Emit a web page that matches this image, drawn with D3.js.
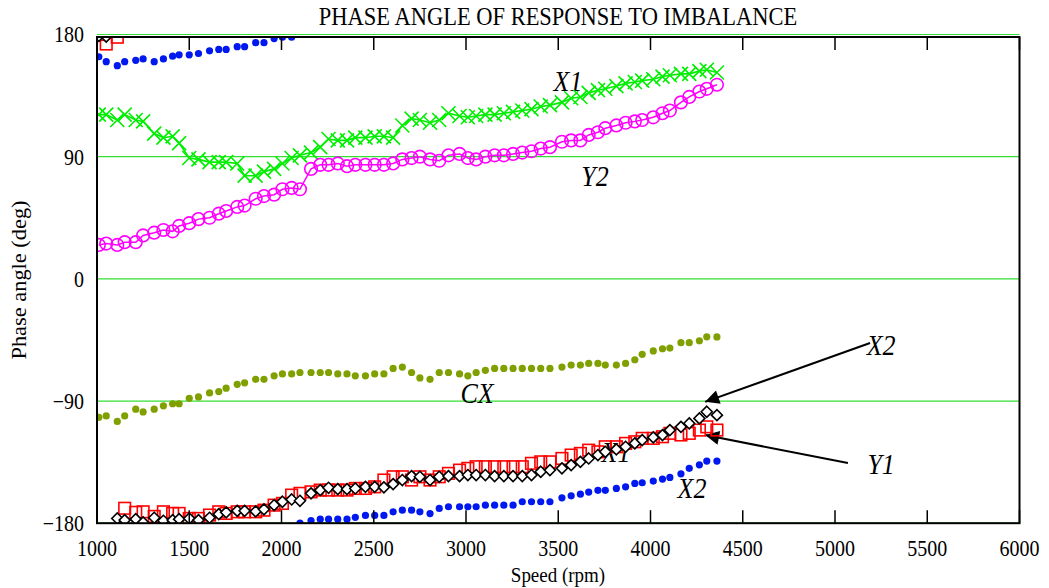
<!DOCTYPE html>
<html><head><meta charset="utf-8">
<script src="https://cdn.jsdelivr.net/npm/d3@7"></script>
<style>html,body{margin:0;padding:0;background:#fff;}svg{display:block;}</style>
</head><body>
<script>
const speeds = [1010,1050,1110,1150,1210,1250,1310,1360,1410,1445,1500,1550,1610,1660,1700,1760,1800,1860,1905,1960,2005,2055,2100,2160,2210,2255,2305,2355,2400,2455,2505,2555,2605,2655,2705,2750,2805,2855,2905,2965,3010,3055,3105,3155,3205,3255,3305,3355,3405,3455,3520,3570,3620,3665,3715,3755,3815,3865,3915,3955,4015,4065,4105,4165,4210,4265,4305,4360];
const seriesX1 = [121,121,117,121,117,116,107,104,105,100,89,88,86,86,86,85,76,76,79,81,85,89,91,93,97,103,102,102,104,104,105,105,104,113,118,117,115,117,122,120,119,120,121,121,122,123,124,125,127,128,130,133,134,137,139,140,142,144,145,146,147,149,150,151,151,153,154,152];
const seriesY2 = [25,26,25,27,27,32,34,36,35,39,41,44,45,48,50,53,54,59,61,62,66,67,66,81,84,84,85,83,84,84,84,84,85,88,89,90,88,87,91,92,89,88,90,91,91,92,93,94,96,97,101,102,102,106,108,111,113,115,116,117,119,122,124,130,134,138,140,143];
const seriesCX = [-102,-101,-105,-101,-96,-98,-96,-93.5,-92,-92,-88,-87,-84,-83,-80.5,-77.7,-76.6,-74,-74,-71.4,-70,-70,-69,-69,-69,-69,-70,-70,-71.4,-71.4,-70,-70,-66,-65,-69,-73,-74,-69,-69,-70,-71.4,-69,-67.4,-66,-66,-66,-66,-66,-66,-66,-65,-63.5,-63.5,-62.3,-62.3,-63.5,-63.5,-62.3,-59.6,-55.6,-53.1,-51.5,-51,-47,-47,-45.6,-42.7,-42.8];
const seriesX2dots = [163.6,160,157,160,161,162,160,162,164,165,165,166,168,169,169,171,171,174,174,177,178,178,-180,-178,-177,-177,-177,-177,-175.7,-174.3,-174.3,-174.3,-171.6,-170.4,-170.4,-171.6,-172.9,-169.1,-167.9,-167.9,-167.9,-167.9,-166.7,-166.7,-166.7,-166.7,-164.2,-164.2,-164.2,-164.2,-161.3,-159.8,-158.6,-157.1,-155.8,-155.8,-154.4,-153.2,-150.7,-150.2,-149,-147.5,-146.3,-143.6,-139.6,-137,-134.2,-134.2];
const seriesY1 = [180,173,178,-169,-172,-171.6,-175,-171.6,-172.8,-172.8,-176.5,-176.5,-174,-171.6,-172.8,-171.6,-171.6,-171.6,-170.4,-166.7,-165.4,-159.3,-158,-156.9,-155.6,-155.6,-155.6,-155.6,-154.4,-154.4,-153.2,-148.2,-145.8,-145.8,-148.2,-145.8,-148.2,-145.8,-143.3,-140.9,-139.6,-138.4,-138.4,-138.4,-138.4,-138.4,-138.4,-135.9,-134.8,-134.8,-132.3,-129.8,-128.6,-126.2,-127.4,-123.7,-123.7,-121.2,-120,-117.5,-117.5,-116.3,-113.8,-115,-113.8,-111.4,-109,-111.4];
const seriesX2diamonds = [179,178.5,-176.5,-177.7,-177,-179.4,-176,-178.2,-177.7,-177,-176.5,-177.7,-176,-173.3,-172,-170.9,-170.9,-171.3,-169.8,-166.7,-164.2,-162.5,-163.5,-158,-155.6,-153.9,-154.9,-154.9,-154.4,-153.2,-153.2,-153.6,-151.2,-148.2,-145.3,-145.8,-148.2,-145.8,-145.3,-145.3,-144.5,-144.5,-144.5,-145.3,-145.3,-145.3,-145.3,-144.5,-142.1,-140.9,-139.6,-137.2,-134.8,-132.3,-129.8,-127.4,-125.6,-123.7,-121.2,-118.8,-116.8,-115.1,-111.4,-109,-106.5,-102.8,-97.9,-100.4];
const xTicks = [1000,1500,2000,2500,3000,3500,4000,4500,5000,5500,6000];
const yTicks = [180,90,0,-90,-180];
const yTickLabels = ["180","90","0","\u221290","\u2212180"];
const titleText = "PHASE ANGLE OF RESPONSE TO IMBALANCE";
const xLabel = "Speed (rpm)";
const yLabel = "Phase angle (deg)";
const annotations = [
  {t:"X1", s:3553, v:145.6},
  {t:"Y2", s:3699, v:75.7},
  {t:"CX", s:3060, v:-84.1},
  {t:"X2", s:5250, v:-48.7},
  {t:"Y1", s:5250, v:-136.5},
  {t:"X1", s:3813, v:-127.6},
  {t:"X2", s:4225, v:-154.1}
];
const arrows = [
  {s0:5190, v0:-47.3, s1:4296, v1:-90.6},
  {s0:5070, v0:-135.7, s1:4296, v1:-115.1}
];

const W=1049,H=588;
const svg = d3.select("body").append("svg").attr("width",W).attr("height",H);
const x = d3.scaleLinear().domain([1000,6000]).range([97,1019.5]);
const y = d3.scaleLinear().domain([-180,180]).range([523.2,34.5]);
const serif = "'Liberation Serif','Times New Roman',serif";
const SY = 1.12;

const defs = svg.append("defs");
defs.append("clipPath").attr("id","clip").append("rect")
  .attr("x",x(1000)).attr("y",37).attr("width",x(6000)-x(1000)).attr("height",y(-180)-37);
defs.append("marker").attr("id","ah").attr("viewBox","0 0 10 10").attr("refX",10).attr("refY",5)
  .attr("markerWidth",16).attr("markerHeight",14).attr("markerUnits","userSpaceOnUse").attr("orient","auto")
  .append("path").attr("d","M0,0 L10,5 L0,10 z").attr("fill","#000");

// gridlines
svg.append("g").selectAll("line").data(yTicks).join("line")
  .attr("x1",x(1000)).attr("x2",x(6000)).attr("y1",d=>y(d)).attr("y2",d=>y(d))
  .attr("stroke","#33e033").attr("stroke-width",1.2);

// annotations
svg.append("g").selectAll("text").data(annotations).join("text")
  .attr("transform",d=>`translate(${x(d.s)},${y(d.v)}) scale(1,${SY})`).attr("dy","0.35em").attr("text-anchor","middle")
  .attr("font-family",serif).attr("font-style","italic").attr("font-size",26).attr("fill","#000")
  .text(d=>d.t);
svg.append("g").selectAll("line").data(arrows).join("line")
  .attr("x1",d=>x(d.s0)).attr("y1",d=>y(d.v0)).attr("x2",d=>x(d.s1)).attr("y2",d=>y(d.v1))
  .attr("stroke","#000").attr("stroke-width",2).attr("marker-end","url(#ah)");

const plot = svg.append("g").attr("clip-path","url(#clip)");
const pts = arr => arr.map((v,i)=>[speeds[i],v]);

// blue dots
plot.append("g").selectAll("circle").data(pts(seriesX2dots)).join("circle")
  .attr("cx",d=>x(d[0])).attr("cy",d=>y(d[1])).attr("r",3.6).attr("fill","#0018f0");
// olive dots
plot.append("g").selectAll("circle").data(pts(seriesCX)).join("circle")
  .attr("cx",d=>x(d[0])).attr("cy",d=>y(d[1])).attr("r",3.6).attr("fill","#80a000");
// green X1 line + crosses
const line = d3.line().x(d=>x(d[0])).y(d=>y(d[1]));
plot.append("path").attr("d",line(pts(seriesX1))).attr("fill","none").attr("stroke","#00ee00").attr("stroke-width",1.6);
plot.append("g").selectAll("path").data(pts(seriesX1)).join("path")
  .attr("d",d=>{const cx=x(d[0]),cy=y(d[1]),h=7;return `M${cx-h},${cy-h}L${cx+h},${cy+h}M${cx-h},${cy+h}L${cx+h},${cy-h}`;})
  .attr("stroke","#00ee00").attr("stroke-width",1.6).attr("fill","none");
// magenta Y2 line + circles
plot.append("path").attr("d",line(pts(seriesY2))).attr("fill","none").attr("stroke","#ff00ff").attr("stroke-width",1.5);
plot.append("g").selectAll("circle").data(pts(seriesY2)).join("circle")
  .attr("cx",d=>x(d[0])).attr("cy",d=>y(d[1])).attr("r",6.3).attr("fill","none").attr("stroke","#ff00ff").attr("stroke-width",1.6);
// red squares Y1
plot.append("g").selectAll("rect").data(pts(seriesY1)).join("rect")
  .attr("x",d=>x(d[0])-5.8).attr("y",d=>y(d[1])-5.8).attr("width",11.6).attr("height",11.6)
  .attr("fill","none").attr("stroke","#ff0000").attr("stroke-width",1.6);
// black diamonds
plot.append("g").selectAll("path").data(pts(seriesX2diamonds)).join("path")
  .attr("d",d=>{const cx=x(d[0]),cy=y(d[1]),h=5.5;return `M${cx},${cy-h}L${cx+h},${cy}L${cx},${cy+h}L${cx-h},${cy}Z`;})
  .attr("fill","#fff").attr("stroke","#000").attr("stroke-width",1.6);

// frame
svg.append("rect").attr("x",x(1000)).attr("y",37).attr("width",x(6000)-x(1000)).attr("height",y(-180)-37)
  .attr("fill","none").attr("stroke","#000").attr("stroke-width",2);
// ticks top & bottom
svg.append("g").selectAll("line").data(xTicks).join("line")
  .attr("x1",d=>x(d)).attr("x2",d=>x(d)).attr("y1",y(-180)).attr("y2",y(-180)-13).attr("stroke","#000").attr("stroke-width",1.5);
svg.append("g").selectAll("line").data(xTicks).join("line")
  .attr("x1",d=>x(d)).attr("x2",d=>x(d)).attr("y1",37).attr("y2",50).attr("stroke","#000").attr("stroke-width",1.5);

// tick labels
svg.append("g").selectAll("text").data(xTicks).join("text")
  .attr("transform",d=>`translate(${x(d)},556) scale(1,${SY})`).attr("text-anchor","middle")
  .attr("font-family",serif).attr("font-size",20).text(d=>d);
svg.append("g").selectAll("text").data(yTicks).join("text")
  .attr("transform",d=>`translate(84,${y(d)}) scale(1,${SY})`).attr("dy","0.35em").attr("text-anchor","end")
  .attr("font-family",serif).attr("font-size",20).text((d,i)=>yTickLabels[i]);

// titles
svg.append("text").attr("transform",`translate(558,25) scale(1,${SY})`).attr("text-anchor","middle")
  .attr("font-family",serif).attr("font-size",22.5).text(titleText);
svg.append("text").attr("transform",`translate(558,582) scale(1,${SY})`).attr("text-anchor","middle")
  .attr("font-family",serif).attr("font-size",19).text(xLabel);
svg.append("text").attr("transform",`translate(26,280) scale(1,${SY}) rotate(-90)`).attr("text-anchor","middle")
  .attr("font-family",serif).attr("font-size",20).text(yLabel);
</script>
</body></html>
